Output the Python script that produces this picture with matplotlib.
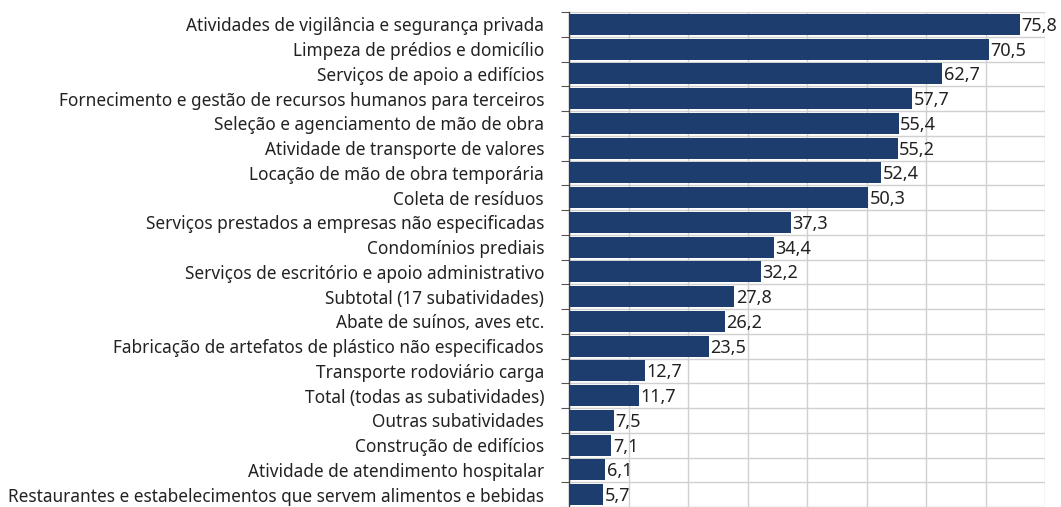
import matplotlib.pyplot as plt
import numpy as np

# categorias (de cima para baixo) e valores (%)
categorias = [
    "Atividades de vigilância e segurança privada",
    "Limpeza de prédios e domicílio",
    "Serviços de apoio a edifícios",
    "Fornecimento e gestão de recursos humanos para terceiros",
    "Seleção e agenciamento de mão de obra",
    "Atividade de transporte de valores",
    "Locação de mão de obra temporária",
    "Coleta de resíduos",
    "Serviços prestados a empresas não especificadas",
    "Condomínios prediais",
    "Serviços de escritório e apoio administrativo",
    "Subtotal (17 subatividades)",
    "Abate de suínos, aves etc.",
    "Fabricação de artefatos de plástico não especificados",
    "Transporte rodoviário carga",
    "Total (todas as subatividades)",
    "Outras subatividades",
    "Construção de edifícios",
    "Atividade de atendimento hospitalar",
    "Restaurantes e estabelecimentos que servem alimentos e bebidas",
]
valores = [75.8, 70.5, 62.7, 57.7, 55.4, 55.2, 52.4, 50.3, 37.3, 34.4,
           32.2, 27.8, 26.2, 23.5, 12.7, 11.7, 7.5, 7.1, 6.1, 5.7]

cor_barra = "#1d3d6f"
plt.rcParams['font.family'] = ['Noto Sans', 'DejaVu Sans']

fig = plt.figure(figsize=(10.61, 5.07), dpi=100)
ax = fig.add_axes([0.5363, 0.0, 0.4487, 0.9763])

y = np.arange(len(categorias))
ax.barh(y, valores, height=0.84, color=cor_barra, zorder=3)

for yi, v in zip(y, valores):
    ax.text(v + 0.25, yi + 0.06, f"{v:.1f}".replace(".", ","), va="center", ha="left",
            fontsize=13, color="#222222", zorder=4)

ax.set_xlim(0, 80)
ax.set_ylim(len(categorias) - 0.5, -0.5)
ax.set_xticks(np.arange(0, 81, 10))
ax.set_xticklabels([])
ax.tick_params(axis="x", length=0)

# rótulos das categorias no centro, ticks nas divisas
ax.set_yticks(y)
ax.set_yticklabels(categorias, fontsize=12.4, color="#222222")
ax.tick_params(axis="y", which="major", length=0, pad=18)
ax.set_yticks(np.arange(-0.5, len(categorias), 1), minor=True)
ax.tick_params(axis="y", which="minor", length=6, width=0.8, color="#555555")

ax.grid(axis="x", color="#d0d0d0", linewidth=1, zorder=0)
ax.grid(axis="y", which="minor", color="#d0d0d0", linewidth=1, zorder=0)

for s in ["top", "right", "bottom"]:
    ax.spines[s].set_visible(False)
ax.spines["left"].set_color("#444444")
ax.spines["left"].set_linewidth(1)

fig.savefig("out.png", dpi=100)
